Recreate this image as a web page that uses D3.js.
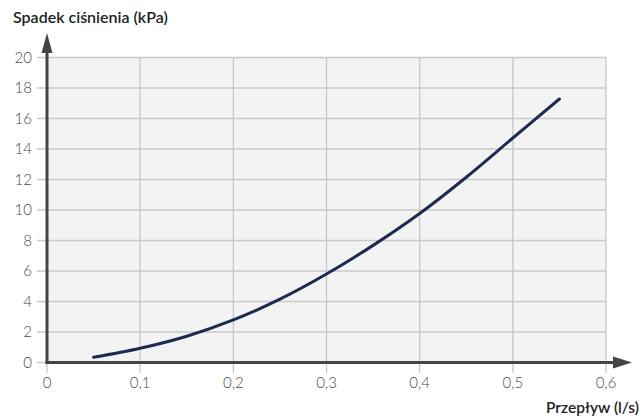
<!DOCTYPE html>
<html><head><meta charset="utf-8">
<script src="https://cdn.jsdelivr.net/npm/d3@7"></script>
<style>body{margin:0;background:#fff}svg{display:block}</style>
</head><body>
<svg id="c" width="641" height="419"></svg>
<script>
const flow = [0.05, 0.1, 0.15, 0.2, 0.25, 0.3, 0.35, 0.4, 0.45, 0.5, 0.55];
const pressureDrop = [0.34, 0.93, 1.72, 2.79, 4.15, 5.8, 7.68, 9.77, 12.15, 14.72, 17.28];
const xTicks = [0, 0.1, 0.2, 0.3, 0.4, 0.5, 0.6];
const yTicks = [0, 2, 4, 6, 8, 10, 12, 14, 16, 18, 20];
const yTitle = "Spadek ciśnienia (kPa)";
const xTitle = "Przepływ (l/s)";

const svg = d3.select("#c");
const x = d3.scaleLinear().domain([0, 0.6]).range([47, 606]);
const y = d3.scaleLinear().domain([0, 20]).range([362.5, 57.5]);
const font = "Lato, 'Open Sans', sans-serif";

svg.append("rect").attr("x", x(0)).attr("y", y(20)).attr("width", x(0.6) - x(0)).attr("height", y(0) - y(20)).attr("fill", "#f3f3f3");

// grid
svg.append("g").selectAll("line").data(yTicks).join("line")
  .attr("x1", 37).attr("x2", x(0.6)).attr("y1", d => y(d)).attr("y2", d => y(d))
  .attr("stroke", "#c9c9c9").attr("stroke-width", 1.5);
svg.append("g").selectAll("line").data(xTicks).join("line")
  .attr("x1", d => x(d)).attr("x2", d => x(d)).attr("y1", y(20)).attr("y2", 373)
  .attr("stroke", "#c4c4c4").attr("stroke-width", 1.2);

// tick labels
svg.append("g").selectAll("text").data(yTicks).join("text")
  .attr("x", 32).attr("y", d => y(d)).attr("dy", "0.36em").attr("text-anchor", "end")
  .attr("font-family", font).attr("font-size", 15).attr("font-weight", 300).attr("fill", "#4a4a4a")
  .text(d => d);
svg.append("g").selectAll("text").data(xTicks).join("text")
  .attr("x", d => x(d)).attr("y", 388).attr("text-anchor", "middle")
  .attr("font-family", font).attr("font-size", 15).attr("font-weight", 300).attr("fill", "#4a4a4a")
  .text(d => d3.format(".1~f")(d).replace(".", ","));

// axes with arrows
svg.append("line").attr("x1", x(0)).attr("x2", x(0)).attr("y1", 364).attr("y2", 50)
  .attr("stroke", "#454545").attr("stroke-width", 3);
svg.append("path").attr("d", `M${x(0)},33 L${x(0)-5.5},53 L${x(0)+5.5},53 Z`).attr("fill", "#454545");
svg.append("line").attr("x1", x(0) - 1.5).attr("x2", 616).attr("y1", y(0)).attr("y2", y(0))
  .attr("stroke", "#454545").attr("stroke-width", 3);
svg.append("path").attr("d", `M632,${y(0)} L613,${y(0)-6} L613,${y(0)+6} Z`).attr("fill", "#454545");

// curve
const line = d3.line().x((d, i) => x(flow[i])).y(d => y(d)).curve(d3.curveCatmullRom.alpha(0.5));
svg.append("path").attr("d", line(pressureDrop)).attr("fill", "none")
  .attr("stroke", "#1d2a50").attr("stroke-width", 3).attr("stroke-linecap", "round");

// titles
svg.append("text").attr("x", 13).attr("y", 23).attr("font-family", font).attr("font-size", 16)
  .attr("font-weight", 600).attr("fill", "#222").text(yTitle);
svg.append("text").attr("x", 639).attr("y", 413).attr("text-anchor", "end").attr("font-family", font).attr("font-size", 15.5)
  .attr("font-weight", 600).attr("fill", "#222").text(xTitle);
</script>
</body></html>
